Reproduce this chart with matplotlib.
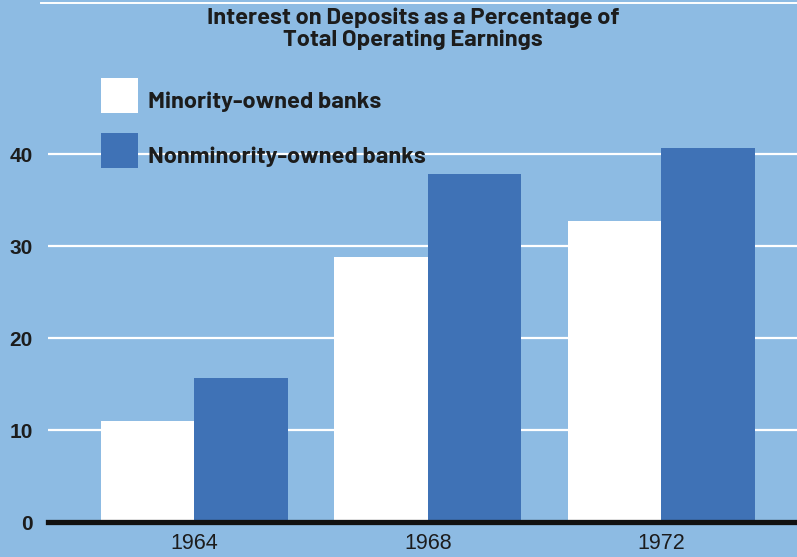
import matplotlib
matplotlib.use("Agg")
import numpy as np
import matplotlib.pyplot as plt
import matplotlib.patches as mpatches
from matplotlib.container import BarContainer
from matplotlib.legend_handler import HandlerPatch, update_from_first_child

# interest on deposits, % of total operating earnings
years = ["1964", "1968", "1972"]
minority = [11.0, 28.8, 32.7]
nonminority = [15.7, 37.8, 40.6]
yticks = [0, 10, 20, 30, 40]

BG = "#8dbbe3"
DARK_BLUE = "#3f72b6"
INK = "#1c1c1c"
NARROW = ["Barlow", "Barlow Semi Condensed", "Roboto Condensed", "DejaVu Sans"]
PLAIN = ["Liberation Sans", "DejaVu Sans"]

W, H = 797, 557
fig = plt.figure(figsize=(W / 100, H / 100), dpi=100, facecolor=BG)
ax = fig.add_axes([48 / W, (H - 522) / H, 1 - 48 / W, 522 / H])
ax.set_facecolor(BG)

x = np.arange(len(years))
bw = 0.4
ax.bar(x - bw / 2, minority, bw, color="white", zorder=3, label="Minority-owned banks")
ax.bar(x + bw / 2, nonminority, bw, color=DARK_BLUE, zorder=3, label="Nonminority-owned banks")

ax.set_xlim(-0.625, 2.58)
ax.set_ylim(0, 522 / 9.2)

# white gridlines behind the bars, heavy black base line
for t in yticks[1:]:
    ax.axhline(t, color="white", lw=1.6, zorder=1)
ax.axhline(0, color="#111111", lw=3.8, zorder=4, clip_on=False)
ax.plot([-0.01, 1], [0.995, 0.995], transform=ax.transAxes, color="white",
        lw=1.4, clip_on=False, zorder=1)

for s in ax.spines.values():
    s.set_visible(False)

ax.set_xticks(x)
ax.set_xticklabels(years, family=PLAIN, fontsize=15.5, color=INK)
ax.set_yticks(yticks)
ax.set_yticklabels([str(t) for t in yticks], family=PLAIN, fontsize=15,
                   fontweight="bold", color=INK)
ax.tick_params(axis="x", length=0, pad=8)
ax.tick_params(axis="y", length=0, pad=11)

fig.text(413 / W, 1 - 7 / H,
         "Interest on Deposits as a Percentage of\nTotal Operating Earnings",
         ha="center", va="top", family=NARROW, fontsize=17, fontweight="bold",
         color=INK, linespacing=1.15)


# square swatches that sit a little below the text baseline
def swatch(legend, orig_handle, xdescent, ydescent, width, height, fontsize):
    return mpatches.Rectangle((-xdescent, -3.6), width, 25.2)


leg = ax.legend(loc="upper left", bbox_to_anchor=(101 / W, 1 - 86 / H),
                bbox_transform=fig.transFigure, frameon=False,
                prop={"family": NARROW, "size": 17, "weight": "bold"},
                handlelength=1.57, handleheight=1.48, handletextpad=0.4,
                labelspacing=1.1, borderpad=0, borderaxespad=0,
                handler_map={BarContainer: HandlerPatch(patch_func=swatch,
                                                        update_func=update_from_first_child)})
for txt in leg.get_texts():
    txt.set_color(INK)

fig.savefig("out.png", dpi=100, facecolor=BG)
